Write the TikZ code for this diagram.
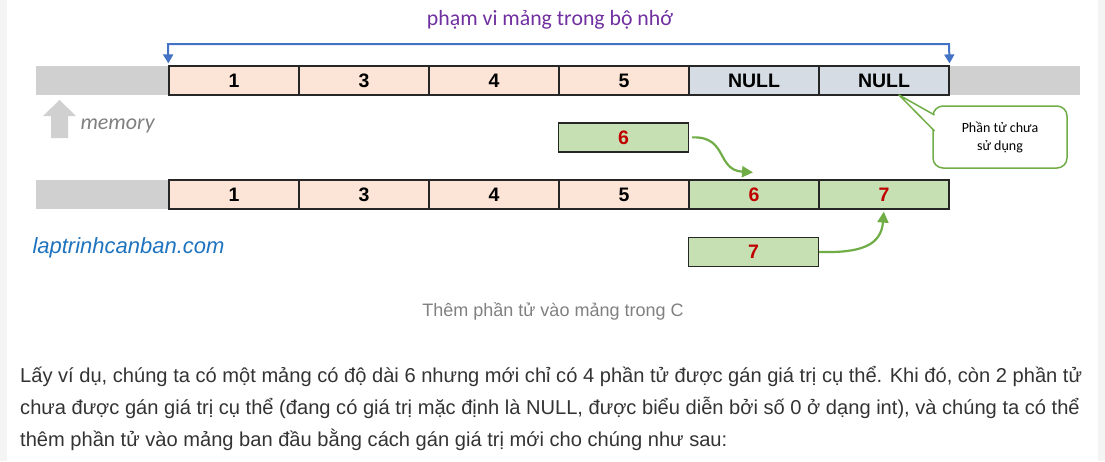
\documentclass[tikz,border=0pt]{standalone}
\usepackage{fontspec}
\setmainfont{Liberation Sans}
\newfontfamily\calibri{Carlito}
\usetikzlibrary{arrows.meta,calc}

\definecolor{cellpink}{HTML}{FCE4D6}
\definecolor{cellnull}{HTML}{D6DCE4}
\definecolor{cellgreen}{HTML}{C6E0B4}
\definecolor{memgray}{HTML}{D0D0D0}
\definecolor{numred}{HTML}{C00000}
\definecolor{rangeblue}{HTML}{4472C4}
\definecolor{movegreen}{HTML}{70AD47}
\definecolor{titlepurple}{HTML}{7030A0}
\definecolor{siteblue}{HTML}{1E73BE}
\definecolor{edgegray}{HTML}{F4F4F4}
\definecolor{paratext}{HTML}{333333}

\begin{document}
\begin{tikzpicture}[x=1pt,y=-1pt,
  cellbox/.style={draw=black!85,line width=1.2pt,minimum width=130pt,minimum height=29pt,
    inner sep=0pt,font=\fontsize{19.5}{19.5}\selectfont\bfseries},
  oldcell/.style={cellbox,fill=cellpink},
  nullcell/.style={cellbox,fill=cellnull},
  newcell/.style={cellbox,fill=cellgreen,text=numred},
  spanline/.style={draw=rangeblue,line width=2pt,
    {Triangle[length=9pt,width=10pt]}-{Triangle[length=9pt,width=10pt]},
    shorten <=2pt,shorten >=2pt},
  movearrow/.style={draw=movegreen,line width=2.2pt,-{Triangle[length=11pt,width=11pt]}},
  notebox/.style={draw=movegreen,line width=1.5pt,rounded corners=10pt,fill=white,
    minimum width=134pt,minimum height=62pt,align=center,
    font=\calibri\fontsize{14}{18}\selectfont},
  paraline/.style={anchor=base west,inner sep=0pt,text=paratext,font=\fontsize{20.1}{20.1}\selectfont}]
\path[use as bounding box] (0,0) rectangle (1105,461);
\fill[edgegray] (0,0) rectangle (7,461);
\fill[edgegray] (1098,0) rectangle (1105,461);

% title and range of the array
\node[text=titlepurple,font=\calibri\fontsize{21.8}{21.8}\selectfont] (title) at (550,20) {phạm vi mảng trong bộ nhớ};

% memory before
\fill[memgray] (36,66) rectangle (169,95);
\fill[memgray] (949,66) rectangle (1080,95);
\node[oldcell] (a1) at (234,80.5) {1};
\node[oldcell] (a2) at (364,80.5) {3};
\node[oldcell] (a3) at (494,80.5) {4};
\node[oldcell] (a4) at (624,80.5) {5};
\node[nullcell] (a5) at (754,80.5) {NULL};
\node[nullcell] (a6) at (884,80.5) {NULL};
\coordinate (rl) at (168,44);
\coordinate (rr) at (949,44);
\draw[spanline] (a1.north west) -- (rl) -- (rr) -- (a6.north east);

% memory label
\fill[memgray] (43,116) -- (59.5,100) -- (76,116) -- (68,116) -- (68,138) -- (51,138) -- (51,116) -- cycle;
\node[anchor=west,text=black!50,font=\calibri\itshape\fontsize{22}{22}\selectfont] (mem) at (77,126) {memory};

% note on the unused cells
\node[notebox] (note) at (1000,137) {Phần tử chưa\\sử dụng};
\coordinate (tip) at (899,95);
\coordinate (p1) at (934.5,115);
\coordinate (p2) at (934.5,131);
\fill[white] (p1) -- (tip) -- (p2) -- cycle;
\draw[movegreen,line width=1.5pt,line join=round] (p1) -- (tip) -- (p2);

% memory after
\fill[memgray] (36,180) rectangle (169,209);
\node[oldcell] (b1) at (234,194.5) {1};
\node[oldcell] (b2) at (364,194.5) {3};
\node[oldcell] (b3) at (494,194.5) {4};
\node[oldcell] (b4) at (624,194.5) {5};
\node[newcell] (b5) at (754,194.5) {6};
\node[newcell] (b6) at (884,194.5) {7};

% new values
\node[newcell] (n6) at (623.5,137.5) {6};
\node[newcell] (n7) at (753.5,252) {7};
\draw[movearrow,shorten <=3pt] (n6.east) .. controls (728,136) and (716,170) .. ($(b5.north)+(-1,-7)$);
\draw[movearrow,shorten >=2pt] (n7.east) .. controls (860,253) and (881,246) .. (b6.south);

\node[anchor=west,text=siteblue,font=\itshape\fontsize{22}{22}\selectfont] (site) at (29,248) {laptrinhcanban.com};
\node[text=black!50,font=\fontsize{18}{18}\selectfont] (cap) at (553,311) {Thêm phần tử vào mảng trong C};

% paragraph
\node[paraline] (l1) at (20,382.5) {Lấy ví dụ, chúng ta có một mảng có độ dài 6 nhưng mới chỉ có 4 phần tử được gán giá trị cụ thể. Khi đó, còn 2 phần tử};
\node[paraline] (l2) at (20,414) {chưa được gán giá trị cụ thể (đang có giá trị mặc định là NULL, được biểu diễn bởi số 0 ở dạng int), và chúng ta có thể};
\node[paraline] (l3) at (20,446) {thêm phần tử vào mảng ban đầu bằng cách gán giá trị mới cho chúng như sau:};
\end{tikzpicture}
\end{document}
